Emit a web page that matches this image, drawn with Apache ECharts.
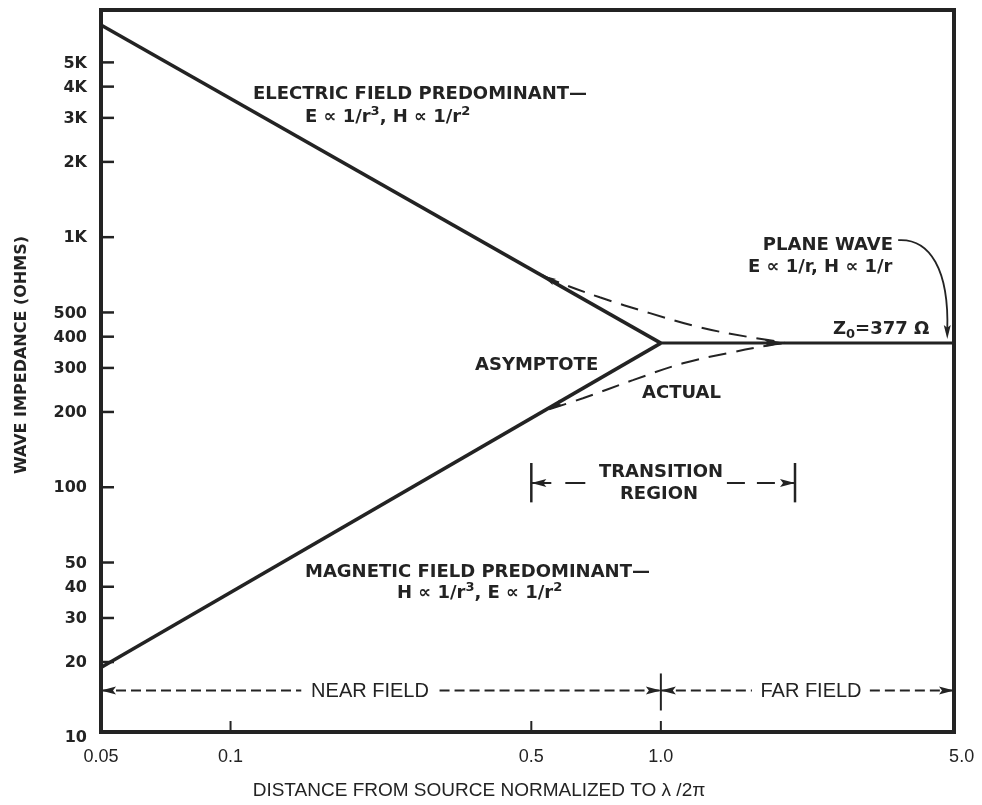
<!DOCTYPE html>
<html><head><meta charset="utf-8">
<script src="https://cdn.jsdelivr.net/npm/echarts@6/dist/echarts.min.js"></script>
<style>html,body{margin:0;padding:0;background:#fff}#c{width:982px;height:805px}</style>
</head><body><div id="c"></div>
<script>
// ---------- data ----------
const xTickValues = [0.05, 0.1, 0.5, 1.0, 5.0];
const xTickLabels = ['0.05', '0.1', '0.5', '1.0', '5.0'];
const xTickMarks = [0.1, 0.5, 1.0];
const yTickValues = [10, 20, 30, 40, 50, 100, 200, 300, 400, 500, 1000, 2000, 3000, 4000, 5000];
const yTickLabels = ['10', '20', '30', '40', '50', '100', '200', '300', '400', '500', '1K', '2K', '3K', '4K', '5K'];

const electricAsymptote = [[0.05, 7050], [1.0, 377]];
const magneticAsymptote = [[0.05, 19], [1.0, 377]];
const planeWave = [[1.0, 377], [4.8, 377]];
const actualUpper = [[0.53, 705], [0.561, 673], [0.721, 575], [0.943, 497], [1.232, 436], [1.611, 398], [1.94, 379]];
const actualLower = [[0.55, 205], [0.659, 227], [0.861, 268], [1.125, 313], [1.47, 347], [1.792, 370], [1.94, 377]];

const nearFieldLeft = [[0.05, 15.4], [0.146, 15.4]];
const nearFieldRight = [[0.306, 15.4], [1.0, 15.4]];
const farFieldLeft = [[1.0, 15.4], [1.628, 15.4]];
const farFieldRight = [[3.06, 15.4], [4.8, 15.4]];
const fieldDivider = [[1.0, 12.8], [1.0, 18.0]];
const transitionLeft = [[0.5, 104], [0.684, 104]];
const transitionRight = [[1.424, 104], [2.05, 104]];
const transitionBarLeft = [[0.5, 87], [0.5, 125]];
const transitionBarRight = [[2.05, 87], [2.05, 125]];
const upperStartHead = [[0.585, 640], [0.53, 705]];
const lowerStartHead = [[0.62, 230], [0.55, 205]];
const actualEndHead = [[1.62, 377], [1.95, 377]];
const planeWaveArrow = [[3.56, 973], [4.63, 392]];

// ---------- chart ----------
const INK = '#232323';
const chart = echarts.init(document.getElementById('c'));

function headShape(tip, from, L, W) {
  const dx = tip[0] - from[0], dy = tip[1] - from[1];
  const len = Math.hypot(dx, dy) || 1;
  const ux = dx / len, uy = dy / len;
  const bx = tip[0] - ux * L, by = tip[1] - uy * L;
  const nx = tip[0] - ux * L * 0.8, ny = tip[1] - uy * L * 0.8;
  return {
    type: 'polygon',
    shape: { points: [[tip[0], tip[1]], [bx - uy * W, by + ux * W], [nx, ny], [bx + uy * W, by - ux * W]] },
    style: { fill: INK }
  };
}

const arrowDefs = [
  { pts: nearFieldLeft, start: true, end: false, dash: [10, 5], w: 2 },
  { pts: nearFieldRight, start: false, end: true, dash: [10, 5], w: 2 },
  { pts: farFieldLeft, start: true, end: false, dash: [10, 5], w: 2 },
  { pts: farFieldRight, start: false, end: true, dash: [10, 5], w: 2 },
  { pts: fieldDivider, start: false, end: false, dash: null, w: 2 },
  { pts: transitionLeft, start: true, end: false, dash: [20, 14], w: 2 },
  { pts: transitionRight, start: false, end: true, dash: [18, 12], w: 2 },
  { pts: transitionBarLeft, start: false, end: false, dash: null, w: 2.5 },
  { pts: transitionBarRight, start: false, end: false, dash: null, w: 2.5 },
  { pts: upperStartHead, start: false, end: true, dash: null, w: 0, L: 14, W: 3.5 },
  { pts: lowerStartHead, start: false, end: true, dash: null, w: 0, L: 14, W: 3.5 },
  { pts: actualEndHead, start: false, end: true, dash: null, w: 0, L: 22, W: 4 }
];

function renderArrow(params, api) {
  const d = arrowDefs[params.dataIndex];
  const a = api.coord(d.pts[0]);
  const b = api.coord(d.pts[1]);
  const L = d.L || 15, W = d.W || 4;
  const children = [];
  if (d.w > 0) {
    children.push({
      type: 'line',
      shape: { x1: a[0], y1: a[1], x2: b[0], y2: b[1] },
      style: { stroke: INK, lineWidth: d.w, lineDash: d.dash || null }
    });
  }
  if (d.start) children.push(headShape(a, b, L, W));
  if (d.end) children.push(headShape(b, a, L, W));
  return { type: 'group', children };
}

function renderYTicks(params, api) {
  const i = params.dataIndex;
  const p = api.coord([0.05, api.value(1)]);
  const ch = [{
    type: 'text',
    style: {
      text: yTickLabels[i], x: p[0] - 14, y: p[1] + 1,
      align: 'right', verticalAlign: 'middle',
      fontFamily: 'DejaVu Sans', fontWeight: 'bold', fontSize: 16, fill: INK
    }
  }];
  if (yTickValues[i] > 10) {
    ch.push({ type: 'line', shape: { x1: p[0], y1: p[1], x2: p[0] + 13, y2: p[1] }, style: { stroke: INK, lineWidth: 2.5 } });
  }
  return { type: 'group', children: ch };
}

function renderXTicks(params, api) {
  const i = params.dataIndex;
  const v = api.value(0);
  const p = api.coord([v, 10.5]);
  const ch = [{
    type: 'text',
    style: {
      text: xTickLabels[i], x: p[0], y: p[1] + 25,
      align: 'center', verticalAlign: 'middle',
      fontFamily: 'Liberation Sans', fontSize: 18, fill: INK
    }
  }];
  if (xTickMarks.indexOf(v) >= 0) {
    ch.push({ type: 'line', shape: { x1: p[0], y1: p[1], x2: p[0], y2: p[1] - 11 }, style: { stroke: INK, lineWidth: 2 } });
  }
  return { type: 'group', children: ch };
}

function renderPlaneArrow(params, api) {
  const a = api.coord(planeWaveArrow[0]);
  const b = api.coord(planeWaveArrow[1]);
  return {
    type: 'group',
    children: [
      { type: 'bezierCurve',
        shape: { x1: a[0], y1: a[1], x2: b[0], y2: b[1] - 8, cpx1: a[0] + 32, cpy1: a[1] - 2, cpx2: b[0] + 2, cpy2: a[1] + 30 },
        style: { stroke: INK, lineWidth: 1.8, fill: null } },
      headShape(b, [b[0], b[1] - 20], 14, 3.5)
    ]
  };
}

const lineStyleSolid = (w) => ({ color: INK, width: w, type: 'solid' });

const SUP = { fontSize: 13, lineHeight: 13, fontFamily: 'DejaVu Sans', fontWeight: 'bold', fill: INK, verticalAlign: 'top' };
const SUB = { fontSize: 13, lineHeight: 13, fontFamily: 'DejaVu Sans', fontWeight: 'bold', fill: INK, verticalAlign: 'bottom' };

const texts = [
  { t: 'ELECTRIC FIELD PREDOMINANT—', x: 253, y: 94, a: 'left' },
  { t: 'E \u221d 1/r{sup|3}, H \u221d 1/r{sup|2}', x: 305, y: 117, a: 'left' },
  { t: 'PLANE WAVE', x: 893, y: 245, a: 'right' },
  { t: 'E \u221d 1/r, H \u221d 1/r', x: 748, y: 267, a: 'left' },
  { t: 'Z{sub|0}=377 \u03a9', x: 833, y: 329, a: 'left' },
  { t: 'ASYMPTOTE', x: 475, y: 365, a: 'left' },
  { t: 'ACTUAL', x: 642, y: 393, a: 'left' },
  { t: 'TRANSITION', x: 661, y: 472, a: 'center' },
  { t: 'REGION', x: 659, y: 494, a: 'center' },
  { t: 'MAGNETIC FIELD PREDOMINANT—', x: 305, y: 572, a: 'left' },
  { t: 'H \u221d 1/r{sup|3}, E \u221d 1/r{sup|2}', x: 397, y: 593, a: 'left' }
];

const graphic = texts.map(o => ({
  type: 'text', x: o.x, y: o.y, silent: true,
  style: { text: o.t, align: o.a, verticalAlign: 'middle', fontFamily: 'DejaVu Sans', fontWeight: 'bold', fontSize: 18, lineHeight: 24, fill: INK, rich: { sup: SUP, sub: SUB } }
}));
graphic.push(
  { type: 'text', x: 370, y: 691, style: { text: 'NEAR FIELD', align: 'center', verticalAlign: 'middle', fontFamily: 'Liberation Sans', fontSize: 20, fill: INK } },
  { type: 'text', x: 811, y: 691, style: { text: 'FAR FIELD', align: 'center', verticalAlign: 'middle', fontFamily: 'Liberation Sans', fontSize: 20, fill: INK } },
  { type: 'text', x: 479, y: 791, style: { text: 'DISTANCE FROM SOURCE NORMALIZED TO \u03bb /2\u03c0', align: 'center', verticalAlign: 'middle', fontFamily: 'Liberation Sans', fontSize: 19, fill: INK } },
  { type: 'text', x: 22, y: 355, rotation: Math.PI / 2, style: { text: 'WAVE IMPEDANCE (OHMS)', align: 'center', verticalAlign: 'middle', fontFamily: 'DejaVu Sans', fontWeight: 'bold', fontSize: 16, fill: INK } }
);

chart.setOption({
  animation: false,
  backgroundColor: '#fff',
  grid: { left: 101, right: 28, top: 10, bottom: 73, show: true, borderColor: INK, borderWidth: 4, backgroundColor: 'transparent' },
  xAxis: { type: 'log', logBase: 10, min: 0.05, max: 4.8, axisLine: { show: false }, axisTick: { show: false }, axisLabel: { show: false }, splitLine: { show: false }, minorSplitLine: { show: false } },
  yAxis: { type: 'log', logBase: 10, min: 10.5, max: 8100, axisLine: { show: false }, axisTick: { show: false }, axisLabel: { show: false }, splitLine: { show: false } },
  graphic: graphic,
  series: [
    { type: 'line', data: electricAsymptote, symbol: 'none', lineStyle: lineStyleSolid(3.5), z: 3 },
    { type: 'line', data: magneticAsymptote, symbol: 'none', lineStyle: lineStyleSolid(3.5), z: 3 },
    { type: 'line', data: planeWave, symbol: 'none', lineStyle: lineStyleSolid(3), z: 3 },
    { type: 'line', data: actualUpper, symbol: 'none', smooth: 0.4, lineStyle: { color: INK, width: 2, type: [18, 10] }, z: 2 },
    { type: 'line', data: actualLower, symbol: 'none', smooth: 0.4, lineStyle: { color: INK, width: 2, type: [18, 10] }, z: 2 },
    { type: 'custom', renderItem: renderArrow, data: arrowDefs.map(d => d.pts[0]), clip: false, z: 4, silent: true },
    { type: 'custom', renderItem: renderYTicks, data: yTickValues.map(v => [0.05, v]), clip: false, z: 5, silent: true },
    { type: 'custom', renderItem: renderXTicks, data: xTickValues.map(v => [v, 10.5]), clip: false, z: 5, silent: true },
    { type: 'custom', renderItem: renderPlaneArrow, data: [planeWaveArrow[0]], clip: false, z: 4, silent: true }
  ]
});
</script>
</body></html>
